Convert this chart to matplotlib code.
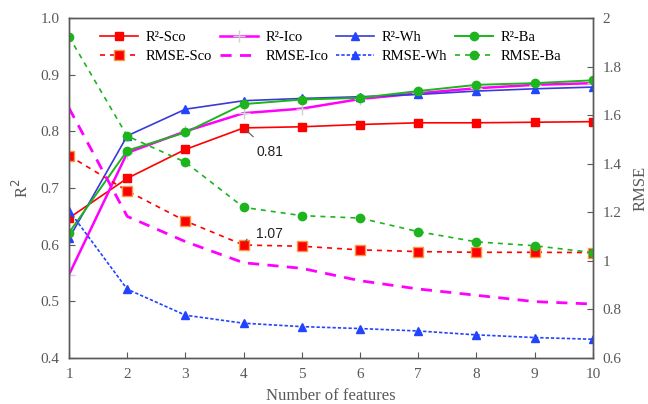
import numpy as np
import matplotlib.pyplot as plt

##############################
#  data
##############################
n_features = [1, 2, 3, 4, 5, 6, 7, 8, 9, 10]

r2_sco = [0.647, 0.717, 0.768, 0.806, 0.808, 0.812, 0.815, 0.815, 0.816, 0.817]
r2_ico = [0.547, 0.762, 0.800, 0.832, 0.840, 0.857, 0.867, 0.876, 0.882, 0.885]
r2_wh = [0.611, 0.792, 0.839, 0.854, 0.858, 0.861, 0.865, 0.871, 0.875, 0.878]
r2_ba = [0.621, 0.766, 0.798, 0.848, 0.856, 0.859, 0.871, 0.882, 0.885, 0.890]

rmse_sco = [1.433, 1.288, 1.164, 1.065, 1.060, 1.045, 1.038, 1.035, 1.035, 1.034]
rmse_ico = [1.629, 1.183, 1.079, 0.992, 0.969, 0.918, 0.884, 0.858, 0.832, 0.822]
rmse_wh = [1.207, 0.883, 0.776, 0.743, 0.729, 0.721, 0.711, 0.695, 0.684, 0.677]
rmse_ba = [1.923, 1.514, 1.406, 1.220, 1.186, 1.176, 1.120, 1.078, 1.062, 1.034]

#-- colors
RED = '#FF0000'
MAG = '#FF00FF'
BLUE = '#3A3AD8'
BLUE_M = '#2244FF'
GREEN = '#1DB41D'
GRAY = '#595959'

plt.rcParams['font.family'] = ['Liberation Serif', 'DejaVu Serif']

fig = plt.figure(figsize=(6.48, 4.04), dpi=100)
ax = fig.add_axes([0.1065, 0.114, 0.8085, 0.8415])
ax2 = ax.twinx()

#-- R2 lines (left axis)
l1, = ax.plot(n_features, r2_sco, '-', color=RED, lw=1.2, marker='s', ms=6, mfc=RED, mec=RED, label='R²-Sco')
l2, = ax.plot(n_features, r2_ico, '-', color=MAG, lw=1.8, marker='+', ms=8, mec='#D0D0D0', mew=1, label='R²-Ico')
l3, = ax.plot(n_features, r2_wh, '-', color=BLUE, lw=1.2, marker='^', ms=6, mfc=BLUE_M, mec=BLUE_M, label='R²-Wh')
l4, = ax.plot(n_features, r2_ba, '-', color=GREEN, lw=1.4, marker='o', ms=6, mfc=GREEN, mec=GREEN, label='R²-Ba')

#-- RMSE lines (right axis)
m1, = ax2.plot(n_features, rmse_sco, '--', color=RED, lw=1.2, dashes=(3, 3), marker='s', ms=7, mfc=RED, mec='#F79646', mew=1, label='RMSE-Sco')
m2, = ax2.plot(n_features, rmse_ico, '--', color=MAG, lw=2.0, dashes=(4, 3), label='RMSE-Ico')
m3, = ax2.plot(n_features, rmse_wh, '--', color=BLUE_M, lw=1.2, dashes=(2, 1.2), marker='^', ms=6, mfc=BLUE_M, mec=BLUE_M, label='RMSE-Wh')
m4, = ax2.plot(n_features, rmse_ba, '--', color=GREEN, lw=1.2, dashes=(3, 3), marker='o', ms=6, mfc=GREEN, mec=GREEN, label='RMSE-Ba')

#-- axes
ax.set_xlim(1, 10)
ax.set_ylim(0.4, 1.0)
ax2.set_ylim(0.6, 2.0)
ax.set_xticks(n_features)
ax.set_yticks(np.arange(0.4, 1.01, 0.1))
ax.set_yticklabels(['0.4', '0.5', '0.6', '0.7', '0.8', '0.9', '1.0'])
ax2.set_yticks([0.6, 0.8, 1.0, 1.2, 1.4, 1.6, 1.8, 2.0])
ax2.set_yticklabels(['0.6', '0.8', '1', '1.2', '1.4', '1.6', '1.8', '2'])

for a in (ax, ax2):
	for s in a.spines.values():
		s.set_color(GRAY)
		s.set_linewidth(1)
	a.tick_params(direction='in', colors=GRAY, labelsize=11, length=4, pad=7)
	for lab in a.get_xticklabels() + a.get_yticklabels():
		lab.set_color(GRAY)

ax.set_xlabel('Number of features', fontsize=12, color=GRAY, labelpad=5)
ax.set_ylabel('R$^2$', fontsize=12, color=GRAY, labelpad=6)
ax2.set_ylabel('RMSE', fontsize=12, color=GRAY, labelpad=8)

#-- annotations
ax.annotate('0.81', xy=(4, r2_sco[3]), xytext=(4.22, 0.763), fontsize=10, family='Liberation Sans',
	va='center', ha='left', color='#222222',
	arrowprops=dict(arrowstyle='-', color=GRAY, lw=0.8, shrinkA=6, shrinkB=2))
ax2.annotate('1.07', xy=(4, rmse_sco[3]), xytext=(4.22, 1.11), fontsize=10, family='Liberation Sans',
	va='center', ha='left', color='#222222',
	arrowprops=dict(arrowstyle='-', color=GRAY, lw=0.8, shrinkA=6, shrinkB=2,
		connectionstyle='angle,angleA=0,angleB=60,rad=0'))

#-- legend (column-wise fill)
handles = [l1, m1, l2, m2, l3, m3, l4, m4]
ax2.legend(handles=handles, labels=[h.get_label() for h in handles], ncol=4, frameon=False,
	loc='upper left', bbox_to_anchor=(0.035, 1.0), fontsize=10.5, handlelength=2.6,
	columnspacing=0.55, labelspacing=0.35, handletextpad=0.5)

plt.savefig('out.png', dpi=100)
